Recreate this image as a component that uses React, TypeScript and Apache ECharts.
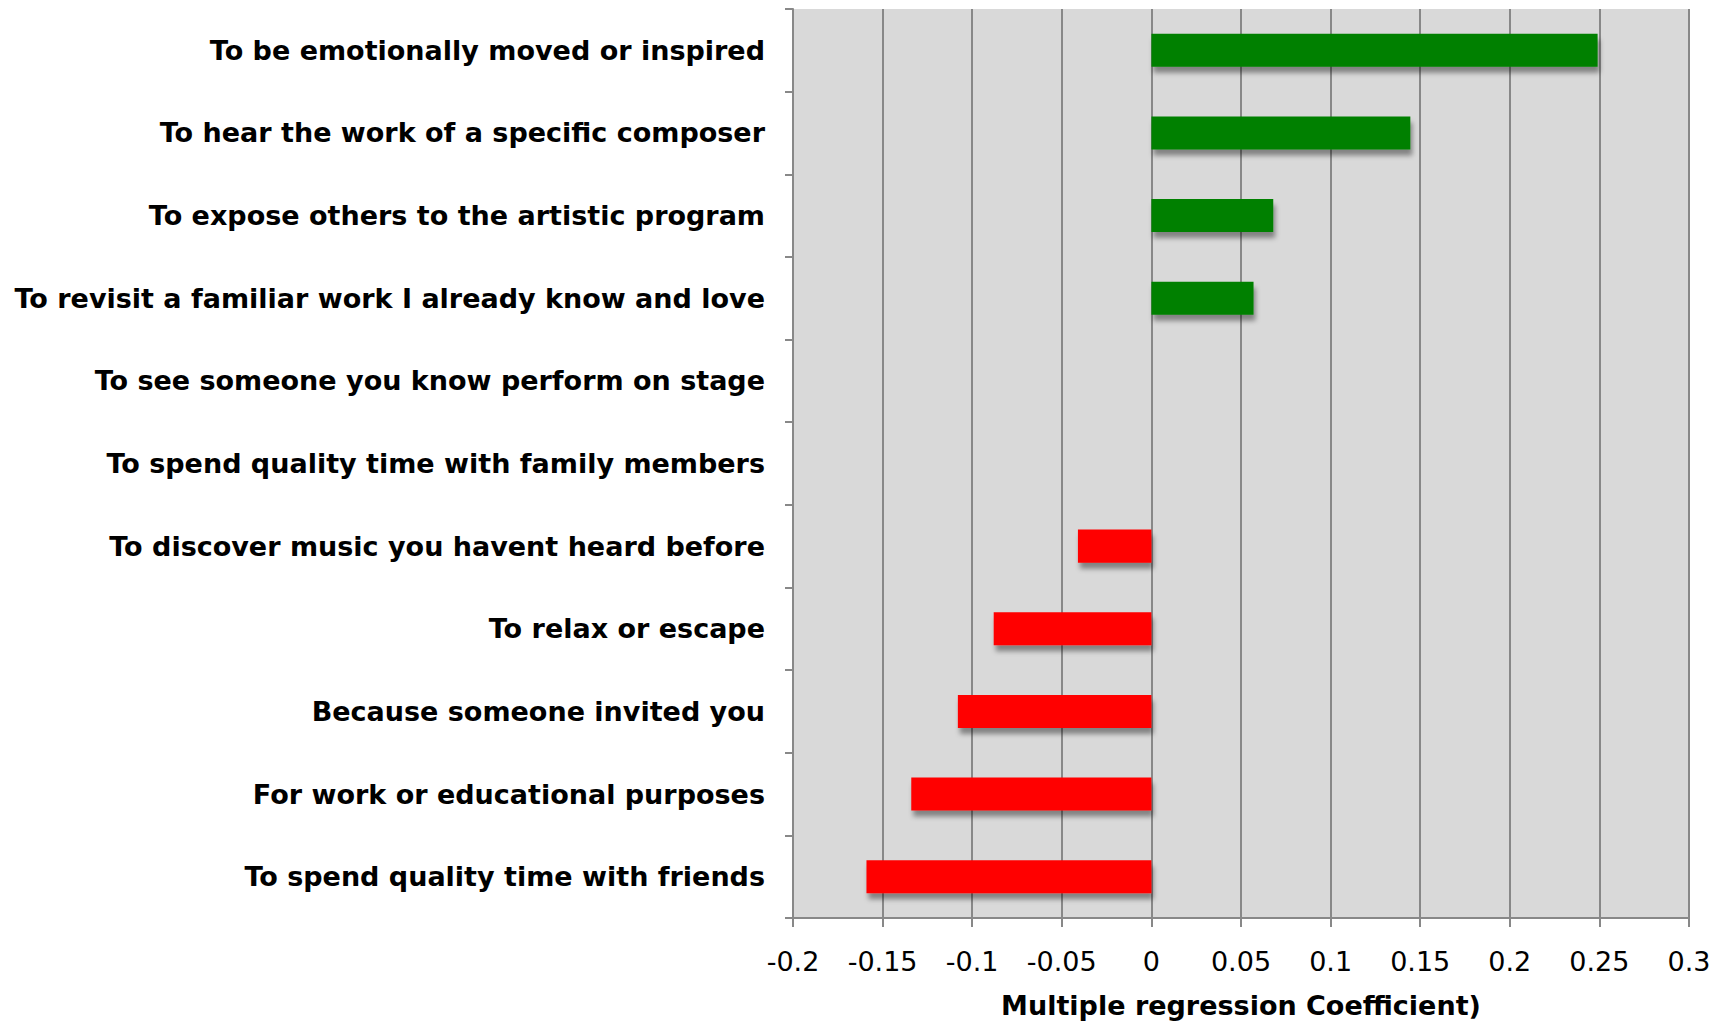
import React, { useEffect, useRef } from "react";
import * as echarts from "echarts";

const categories = [
  "To be emotionally moved or inspired",
  "To hear the work of a specific composer",
  "To expose others to the artistic program",
  "To revisit a familiar work I already know and love",
  "To see someone you know perform on stage",
  "To spend quality time with family members",
  "To discover music you havent heard before",
  "To relax or escape",
  "Because someone invited you",
  "For work or educational purposes",
  "To spend quality time with friends",
];
const coefficients = [0.249, 0.1445, 0.068, 0.057, 0, 0, -0.041, -0.088, -0.108, -0.134, -0.159];
const axisTitle = "Multiple regression Coefficient)";
const xMin = -0.2;
const xMax = 0.3;
const xStep = 0.05;

export default function App() {
  const ref = useRef<HTMLDivElement>(null);
  useEffect(() => {
    if (!ref.current) return;
    const chart = echarts.init(ref.current, null, { renderer: "svg" });
    const cats = [...categories].reverse();
    const vals = [...coefficients].reverse();
    chart.setOption({
      animation: false,
      backgroundColor: "#ffffff",
      grid: { left: 785, right: 32, top: 1, bottom: 101, containLabel: false, show: true, backgroundColor: "#d9d9d9", borderWidth: 0 },
      xAxis: {
        type: "value",
        min: xMin,
        max: xMax,
        interval: xStep,
        name: axisTitle,
        nameLocation: "middle",
        nameGap: 74,
        nameTextStyle: { fontFamily: "DejaVu Sans", fontWeight: "bold", fontSize: 27, color: "#000" },
        axisLine: { show: true, lineStyle: { color: "#888888", width: 2 } },
        axisTick: { show: true, length: 9, lineStyle: { color: "#888888", width: 2 } },
        axisLabel: {
          color: "#000",
          fontFamily: "DejaVu Sans",
          fontSize: 27,
          margin: 30,
          formatter: (v: number) => String(parseFloat(v.toFixed(2))),
        },
        splitLine: { show: true, lineStyle: { color: "#888888", width: 2 } },
      },
      yAxis: [
        {
          type: "category",
          data: cats,
          axisLine: { show: false },
          axisTick: { show: false },
          axisLabel: {
            color: "#000",
            fontFamily: "DejaVu Sans",
            fontWeight: "bold",
            fontSize: 27,
            margin: 28,
          },
        },
        {
          type: "category",
          data: cats,
          position: "left",
          axisLine: { show: true, onZero: true, lineStyle: { color: "#888888", width: 2 } },
          axisTick: { show: true, length: 8, lineStyle: { color: "#888888", width: 2 } },
          axisLabel: { show: false },
          splitLine: { show: false },
        },
      ],
      series: [
        {
          type: "bar",
          yAxisIndex: 0,
          barCategoryGap: "60%",
          data: vals.map((v) => ({
            value: v,
            itemStyle: {
              color: v >= 0 ? "#008000" : "#ff0000",
              shadowColor: "rgba(0,0,0,0.4)",
              shadowBlur: 5,
              shadowOffsetX: 2,
              shadowOffsetY: 6,
            },
          })),
        },
      ],
    });
    return () => chart.dispose();
  }, []);
  return <div ref={ref} style={{ width: 1713, height: 1016 }} />;
}
